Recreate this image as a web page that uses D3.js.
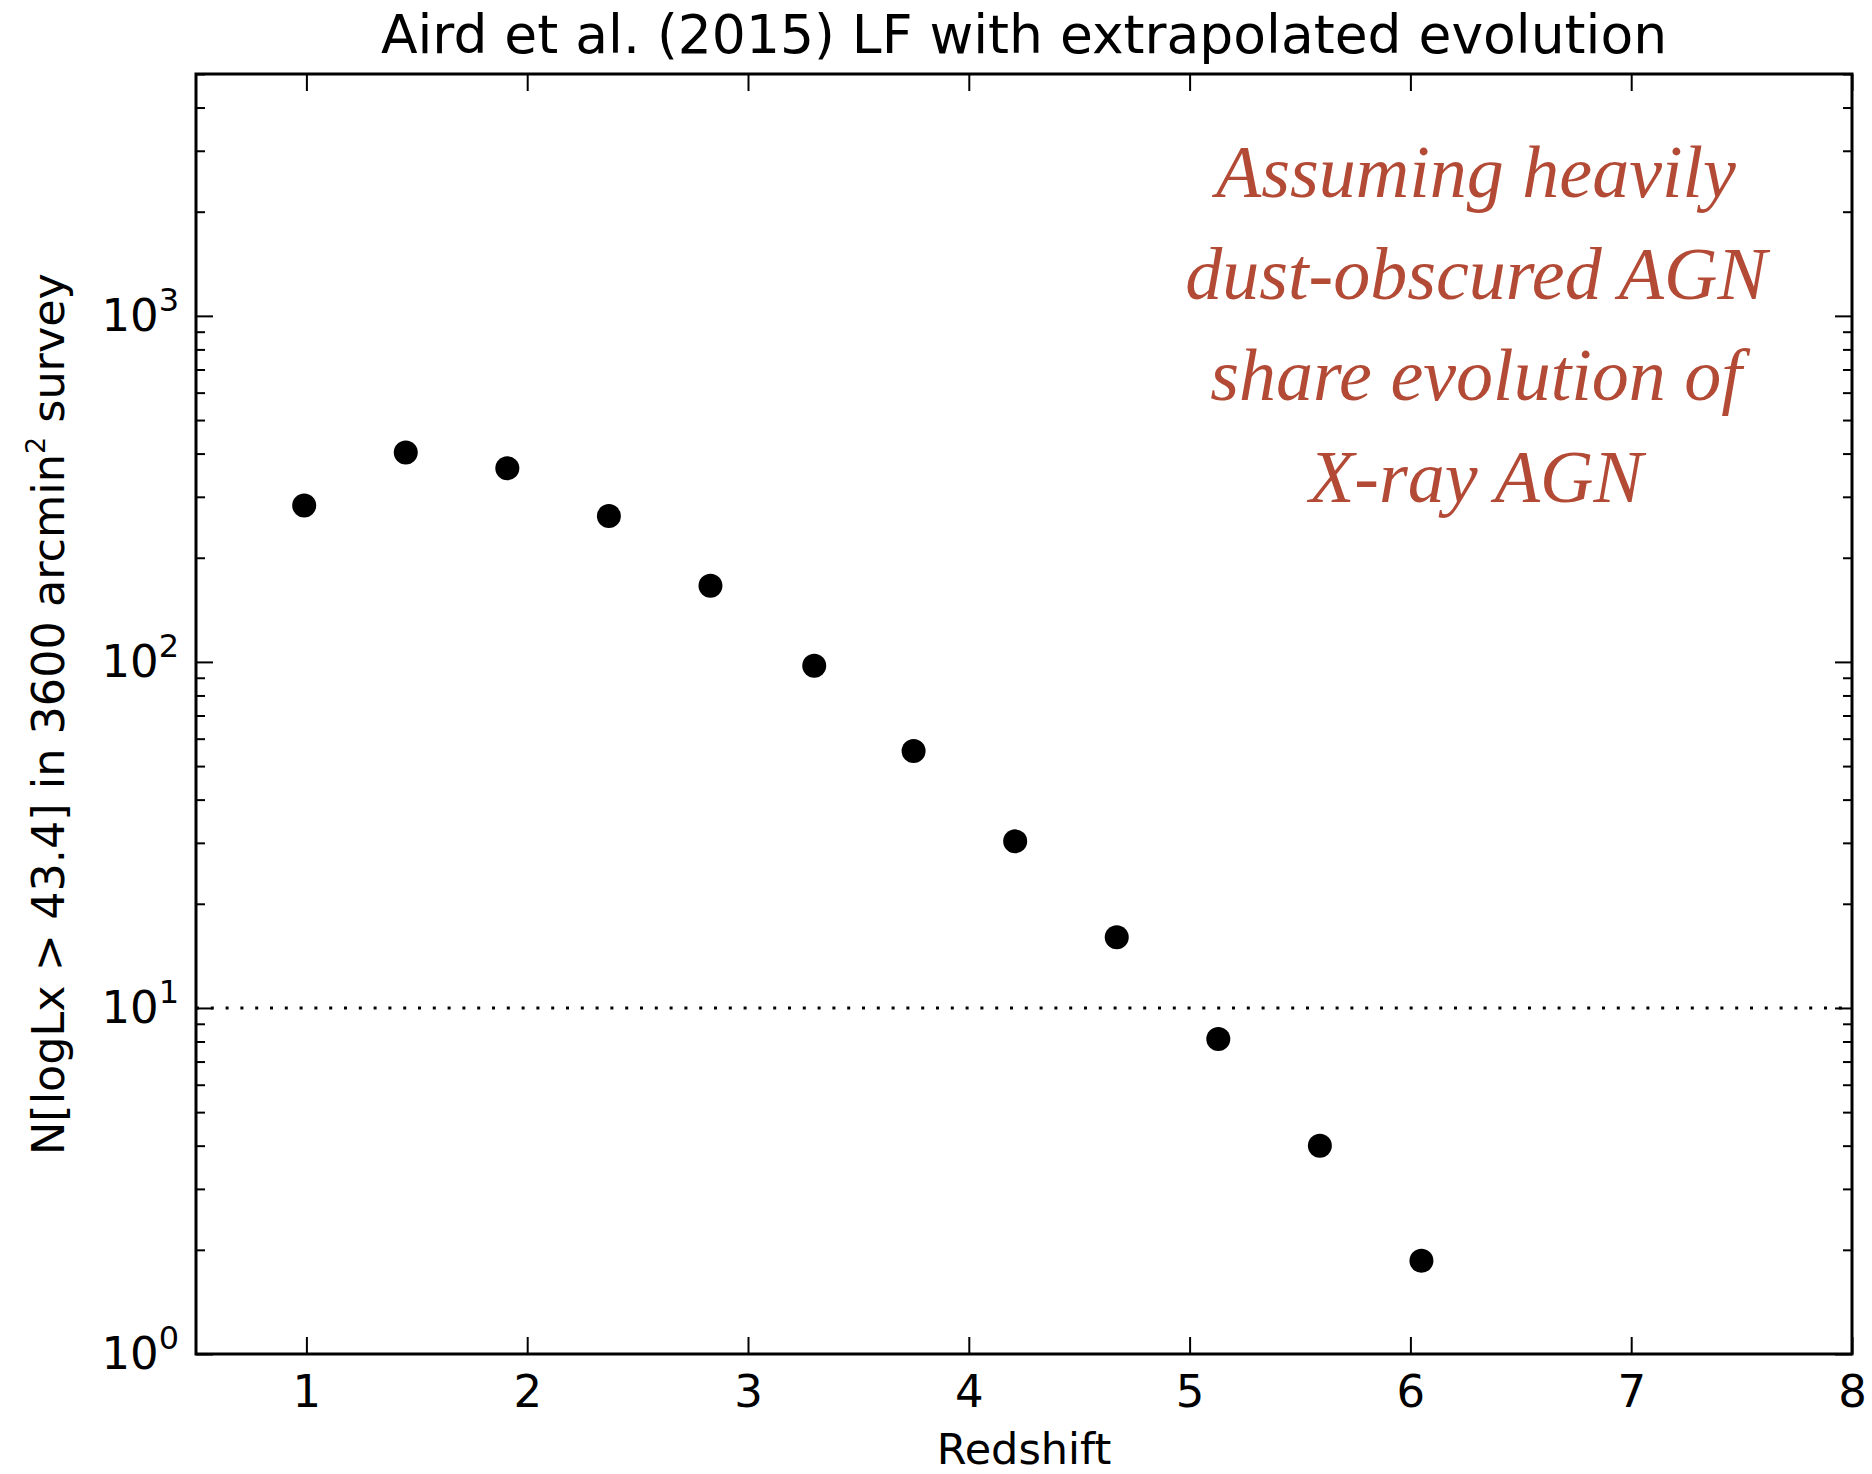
<!DOCTYPE html>
<html>
<head>
<meta charset="utf-8">
<script src="https://cdn.jsdelivr.net/npm/d3@7"></script>
<style>
  body { margin: 0; background: #fff; }
  svg { display: block; }
  text { font-family: 'DejaVu Sans', sans-serif; fill: #000; }
</style>
</head>
<body>
<div id="chart"></div>
<script>
// values
const redshift = [0.99, 1.45, 1.91, 2.37, 2.83, 3.30, 3.75, 4.21, 4.67, 5.13, 5.59, 6.05]
const counts = [283, 403, 363, 264, 166, 97.5, 55.3, 30.3, 16.0, 8.13, 4.0, 1.86]
const xTicks = [1, 2, 3, 4, 5, 6, 7, 8]
const yTicks = [1, 10, 100, 1000]
const yExponents = ['0', '1', '2', '3']
const threshold = 10
const noteLines = ['Assuming heavily', 'dust-obscured AGN', 'share evolution of', 'X-ray AGN']

const width = 1872
const height = 1474
const margin = {top: 74, right: 20, bottom: 120, left: 196}
const innerW = 1852 - margin.left
const innerH = 1354 - margin.top

const svg = d3.select('#chart').append('svg')
  .attr('width', width)
  .attr('height', height)

const g = svg.append('g')
  .attr('transform', 'translate(' + margin.left + ',' + margin.top + ')')

const x = d3.scaleLinear()
  .domain([0.5, 8])
  .range([0, innerW])
const y = d3.scaleLog()
  .domain([1, 5000])
  .range([innerH, 0])

// minor ticks of the log axis
const minor = []
for (let dec = 1; dec < 5000; dec *= 10) {
  for (let m = 2; m <= 9; m++) {
    if (dec * m <= 5000) minor.push(dec * m)
  }
}

function styleTicks(sel) {
  sel.select('.domain').remove()
  sel.selectAll('.tick line').attr('stroke', '#000').attr('stroke-width', 2)
}

// bottom axis with labels
g.append('g')
  .attr('transform', 'translate(0,' + innerH + ')')
  .call(d3.axisBottom(x).tickValues(xTicks).tickSize(-17).tickPadding(21).tickFormat(d3.format('d')))
  .call(styleTicks)
  .selectAll('text')
  .style('font-family', "'DejaVu Sans', sans-serif")
  .style('font-size', '45px')
  .attr('fill', '#000')

// top axis, ticks only
g.append('g')
  .call(d3.axisTop(x).tickValues(xTicks).tickSize(-17).tickFormat(''))
  .call(styleTicks)

// left axis
const yLeft = g.append('g')
  .call(d3.axisLeft(y).tickValues(yTicks).tickSize(-17).tickPadding(17).tickFormat(''))
  .call(styleTicks)

yLeft.selectAll('.tick text')
  .style('font-size', '45px')
  .attr('fill', '#000')
  .each(function (d, i) {
    const t = d3.select(this)
    t.append('tspan').text('10')
    t.append('tspan').text(yExponents[i])
      .style('font-size', '32px')
      .attr('dy', '-20')
  })

g.append('g')
  .call(d3.axisLeft(y).tickValues(minor).tickSize(-9).tickFormat(''))
  .call(styleTicks)

// right axis
g.append('g')
  .attr('transform', 'translate(' + innerW + ',0)')
  .call(d3.axisRight(y).tickValues(yTicks).tickSize(-17).tickFormat(''))
  .call(styleTicks)
g.append('g')
  .attr('transform', 'translate(' + innerW + ',0)')
  .call(d3.axisRight(y).tickValues(minor).tickSize(-9).tickFormat(''))
  .call(styleTicks)

// dotted threshold line
g.append('line')
  .attr('x1', 0)
  .attr('x2', innerW)
  .attr('y1', y(threshold))
  .attr('y2', y(threshold))
  .attr('stroke', '#000')
  .attr('stroke-width', 3)
  .attr('stroke-dasharray', '3 11.8')

// points
g.selectAll('circle')
  .data(redshift)
  .enter()
  .append('circle')
  .attr('cx', d => x(d))
  .attr('cy', (d, i) => y(counts[i]))
  .attr('r', 12)
  .attr('fill', '#000')

// frame
g.append('rect')
  .attr('width', innerW)
  .attr('height', innerH)
  .attr('fill', 'none')
  .attr('stroke', '#000')
  .attr('stroke-width', 3)

// title
svg.append('text')
  .attr('x', margin.left + innerW / 2)
  .attr('y', 53)
  .attr('text-anchor', 'middle')
  .style('font-size', '53.5px')
  .text('Aird et al. (2015) LF with extrapolated evolution')

// axis labels
svg.append('text')
  .attr('x', margin.left + innerW / 2)
  .attr('y', 1464)
  .attr('text-anchor', 'middle')
  .style('font-size', '43px')
  .text('Redshift')

const yl = svg.append('text')
  .attr('transform', 'translate(64,' + (margin.top + innerH / 2) + ') rotate(-90)')
  .attr('text-anchor', 'middle')
  .style('font-size', '44.5px')
yl.append('tspan').text('N[logLx > 43.4] in 3600 arcmin')
yl.append('tspan').text('2').style('font-size', '27px').attr('dy', '-19')
yl.append('tspan').text(' survey').attr('dy', '19')

// annotation
svg.append('g')
  .selectAll('text')
  .data(noteLines)
  .enter()
  .append('text')
  .attr('x', 1476)
  .attr('y', (d, i) => 197 + i * 101.7)
  .attr('text-anchor', 'middle')
  .style('font-family', "'Liberation Serif', serif")
  .style('font-style', 'italic')
  .style('font-size', '74px')
  .style('fill', '#b34a36')
  .text(d => d)
</script>
</body>
</html>
